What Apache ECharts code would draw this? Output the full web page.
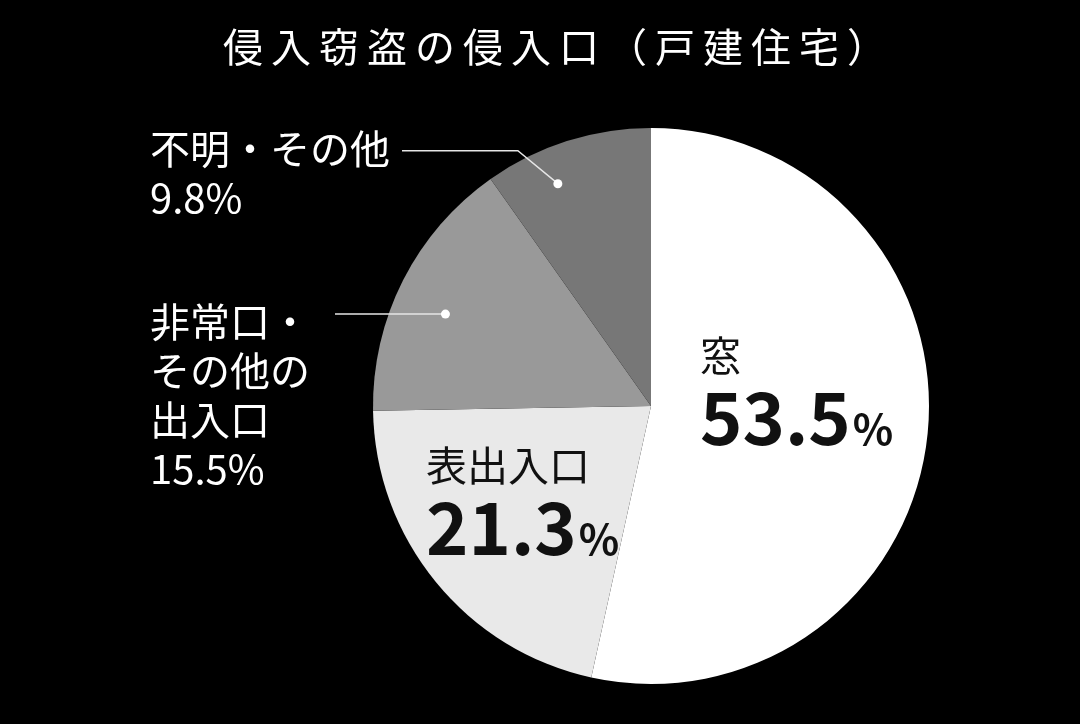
<!DOCTYPE html>
<html>
<head>
<meta charset="utf-8">
<script src="https://cdn.jsdelivr.net/npm/echarts@6/dist/echarts.min.js"></script>
<style>
html,body{margin:0;padding:0;background:#000;}
#main{width:1080px;height:724px;}
</style>
</head>
<body>
<div id="main"></div>
<script>
const titleText = '侵入窃盗の侵入口（戸建住宅）';
const categories = ['窓', '表出入口', '非常口・その他の出入口', '不明・その他'];
const labelTexts = ['窓', '表出入口', '非常口・\nその他の\n出入口', '不明・その他'];
const values = [53.5, 21.3, 15.5, 9.8];
const sliceColors = ['#ffffff', '#e9e9e9', '#999999', '#777777'];

const FONT = '"Noto Sans CJK JP", "Noto Sans", sans-serif';
const chart = echarts.init(document.getElementById('main'), null, {renderer: 'canvas'});

// label placement (layout only)
const labelPos = [
  {x: 700, y: 328},
  {x: 426, y: 438},
  {x: 150, y: 297},
  {x: 150, y: 124}
];
const inner = [true, true, false, false];

const option = {
  backgroundColor: '#000',
  animation: false,
  title: {
    text: titleText.split('').join('\u2009'),
    left: 218,
    top: 22,
    textStyle: {color: '#fff', fontSize: 40, fontWeight: 'normal', fontFamily: FONT}
  },
  series: [{
    type: 'pie',
    center: [651, 406],
    radius: [0, 278],
    startAngle: 90,
    clockwise: true,
    label: {
      show: true,
      overflow: 'none',
      formatter: function (p) {
        const i = p.dataIndex;
        if (inner[i]) return '{n|' + labelTexts[i] + '}\n{v|' + values[i] + '}{p|%}';
        return '{o|' + labelTexts[i] + '}\n{o|' + values[i] + '%}';
      },
      rich: {
        n: {fontSize: 41, lineHeight: 54, color: '#111', fontFamily: FONT},
        v: {fontSize: 72, lineHeight: 72, fontWeight: 'bold', color: '#111', fontFamily: FONT},
        p: {fontSize: 42, lineHeight: 72, fontWeight: 'bold', color: '#111', fontFamily: FONT, verticalAlign: 'bottom', padding: [0,0,4,2]},
        o: {fontSize: 40, lineHeight: 49, color: '#fff', fontFamily: FONT}
      }
    },
    labelLine: {show: false},
    labelLayout: function (params) {
      const lp = labelPos[params.dataIndex];
      return {x: lp.x, y: lp.y, align: 'left', verticalAlign: 'top'};
    },
    emphasis: {disabled: true},
    itemStyle: {borderWidth: 0},
    data: categories.map((c, i) => ({name: c, value: values[i], itemStyle: {color: sliceColors[i]}}))
  }]
};
chart.setOption(option);

// leader dots & lines computed from the pie's own layout
const sData = chart.getModel().getSeriesByIndex(0).getData();
function pt(idx, frac, rr) {
  const l = sData.getItemLayout(idx);
  const a = l.startAngle + (l.endAngle - l.startAngle) * frac;
  return [l.cx + Math.cos(a) * l.r * rr, l.cy + Math.sin(a) * l.r * rr];
}
const d2 = pt(2, 0.45, 0.81);
const d3 = pt(3, 0.355, 0.867);
const lineStyle = {stroke: '#e6e6e6', lineWidth: 1.5, fill: null};
chart.setOption({
  graphic: [
    {type: 'polyline', shape: {points: [d2, [335, d2[1]]]}, style: lineStyle, z: 100},
    {type: 'circle', shape: {cx: d2[0], cy: d2[1], r: 4.5}, style: {fill: '#fff'}, z: 101},
    {type: 'polyline', shape: {points: [d3, [d3[0] - 40, d3[1] - 33], [402, d3[1] - 33]]}, style: lineStyle, z: 100},
    {type: 'circle', shape: {cx: d3[0], cy: d3[1], r: 4.5}, style: {fill: '#fff'}, z: 101}
  ]
});
</script>
</body>
</html>
